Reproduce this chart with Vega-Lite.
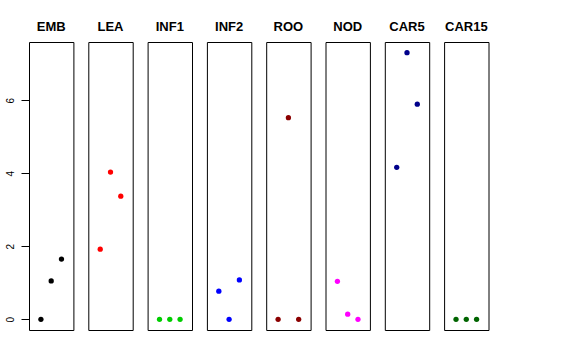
{
  "$schema": "https://vega.github.io/schema/vega-lite/v6.json",
  "padding": {"left": 0, "top": 21, "right": 5, "bottom": 5},
  "background": "white",
  "bounds": "flush",
  "data": {"values": [
    {"panel": "EMB", "x": 1, "value": 0},
    {"panel": "EMB", "x": 2, "value": 1.05},
    {"panel": "EMB", "x": 3, "value": 1.65},
    {"panel": "LEA", "x": 1, "value": 1.92},
    {"panel": "LEA", "x": 2, "value": 4.03},
    {"panel": "LEA", "x": 3, "value": 3.37},
    {"panel": "INF1", "x": 1, "value": 0},
    {"panel": "INF1", "x": 2, "value": 0},
    {"panel": "INF1", "x": 3, "value": 0},
    {"panel": "INF2", "x": 1, "value": 0.77},
    {"panel": "INF2", "x": 2, "value": 0},
    {"panel": "INF2", "x": 3, "value": 1.08},
    {"panel": "ROO", "x": 1, "value": 0},
    {"panel": "ROO", "x": 2, "value": 5.52},
    {"panel": "ROO", "x": 3, "value": 0},
    {"panel": "NOD", "x": 1, "value": 1.04},
    {"panel": "NOD", "x": 2, "value": 0.14},
    {"panel": "NOD", "x": 3, "value": 0},
    {"panel": "CAR5", "x": 1, "value": 4.16},
    {"panel": "CAR5", "x": 2, "value": 7.3},
    {"panel": "CAR5", "x": 3, "value": 5.89},
    {"panel": "CAR15", "x": 1, "value": 0},
    {"panel": "CAR15", "x": 2, "value": 0},
    {"panel": "CAR15", "x": 3, "value": 0}
  ]},
  "facet": {
    "column": {
      "field": "panel", "type": "nominal",
      "sort": ["EMB", "LEA", "INF1", "INF2", "ROO", "NOD", "CAR5", "CAR15"],
      "header": {"title": null, "labelFont": "Liberation Sans", "labelFontSize": 13, "labelFontWeight": "bold", "labelColor": "black", "labelPadding": 8}
    }
  },
  "spacing": 14.3,
  "spec": {
    "width": 44.4,
    "height": 288,
    "mark": {"type": "circle", "size": 28, "opacity": 1},
    "encoding": {
      "x": {"field": "x", "type": "quantitative", "scale": {"domain": [-0.16, 4.16], "nice": false, "zero": false}, "axis": null},
      "y": {"field": "value", "type": "quantitative",
        "scale": {"domain": [-0.292, 7.592], "nice": false, "zero": false},
        "axis": {"title": null, "values": [0, 2, 4, 6], "grid": false, "domain": false, "tickColor": "black", "tickSize": 8,
          "labelAngle": -90, "labelAlign": "center", "labelBaseline": "bottom", "labelFont": "Liberation Sans", "labelFontSize": 10,
          "labelColor": "black", "labelPadding": 6, "minExtent": 29, "maxExtent": 29}},
      "color": {"field": "panel", "type": "nominal",
        "scale": {"domain": ["EMB", "LEA", "INF1", "INF2", "ROO", "NOD", "CAR5", "CAR15"],
          "range": ["#000000", "#FF0000", "#00CD00", "#0000FF", "#8B0000", "#FF00FF", "#00008B", "#006400"]},
        "legend": null}
    }
  },
  "config": {"view": {"stroke": "black", "strokeWidth": 1}}
}
